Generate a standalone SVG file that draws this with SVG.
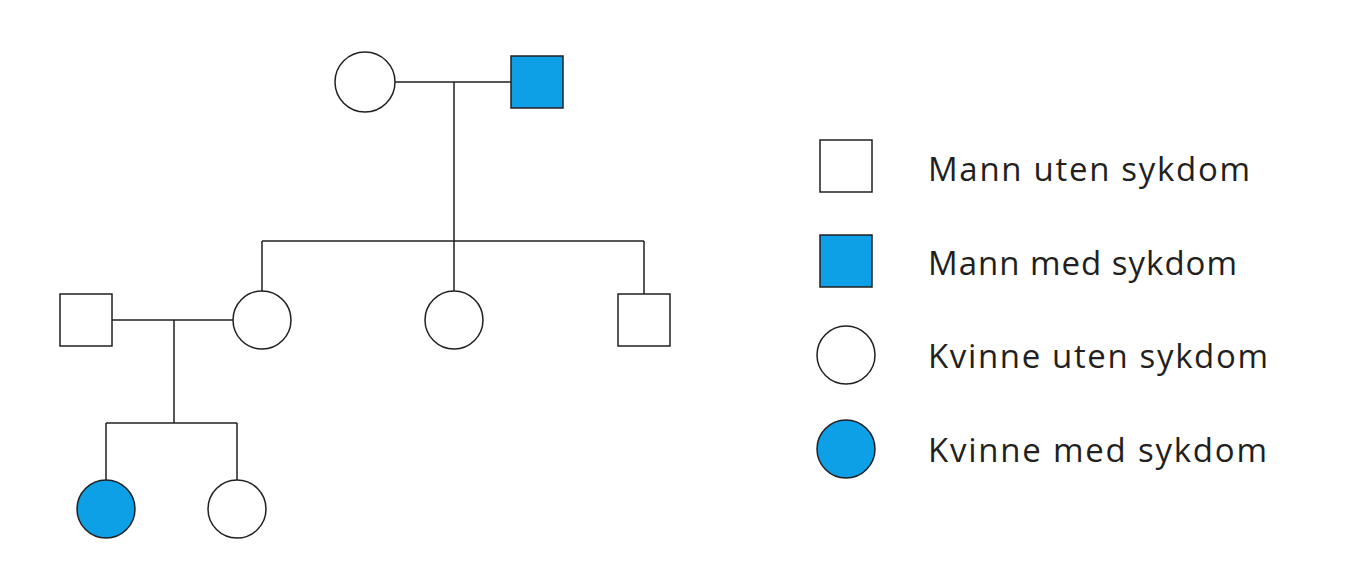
<svg xmlns="http://www.w3.org/2000/svg" width="1356" height="585" viewBox="0 0 1356 585">
<style>
.s{fill:#fff;stroke:#231f20;stroke-width:1.5}
.a{fill:#0ea0e6;stroke:#231f20;stroke-width:1.5}
.l{fill:none;stroke:#231f20;stroke-width:1.5}
text{font-family:"Open Sans","Liberation Sans",sans-serif;font-size:33px;fill:#231f20}
</style>
<rect width="1356" height="585" fill="#fff"/>
<g id="connectors">
<path class="l" d="M395 82H511M454 82V241M262 241H644M262 241V291M454 241V291M644 241V294M112 320H233M174 320V423M106 423H237M106 423V480M237 423V480"/>
</g>
<g id="mother"><circle class="s" cx="365" cy="82" r="30"/></g>
<g id="father"><rect class="a" x="511" y="56" width="52" height="52"/></g>
<g id="daughter1"><circle class="s" cx="262" cy="320" r="29"/></g>
<g id="daughter2"><circle class="s" cx="454" cy="320" r="29"/></g>
<g id="son"><rect class="s" x="618" y="294" width="52" height="52"/></g>
<g id="husband"><rect class="s" x="60" y="294" width="52" height="52"/></g>
<g id="grandchild1"><circle class="a" cx="106" cy="509" r="29"/></g>
<g id="grandchild2"><circle class="s" cx="237" cy="509" r="29"/></g>
<g id="legend">
<rect class="s" x="820" y="140" width="52" height="52"/>
<text x="928" y="181" textLength="322">Mann uten sykdom</text>
<rect class="a" x="820" y="235" width="52" height="52"/>
<text x="928" y="275" textLength="309">Mann med sykdom</text>
<circle class="s" cx="846" cy="355" r="29"/>
<text x="928" y="368" textLength="340">Kvinne uten sykdom</text>
<circle class="a" cx="846" cy="449" r="29"/>
<text x="928" y="462" textLength="339">Kvinne med sykdom</text>
</g>
</svg>
